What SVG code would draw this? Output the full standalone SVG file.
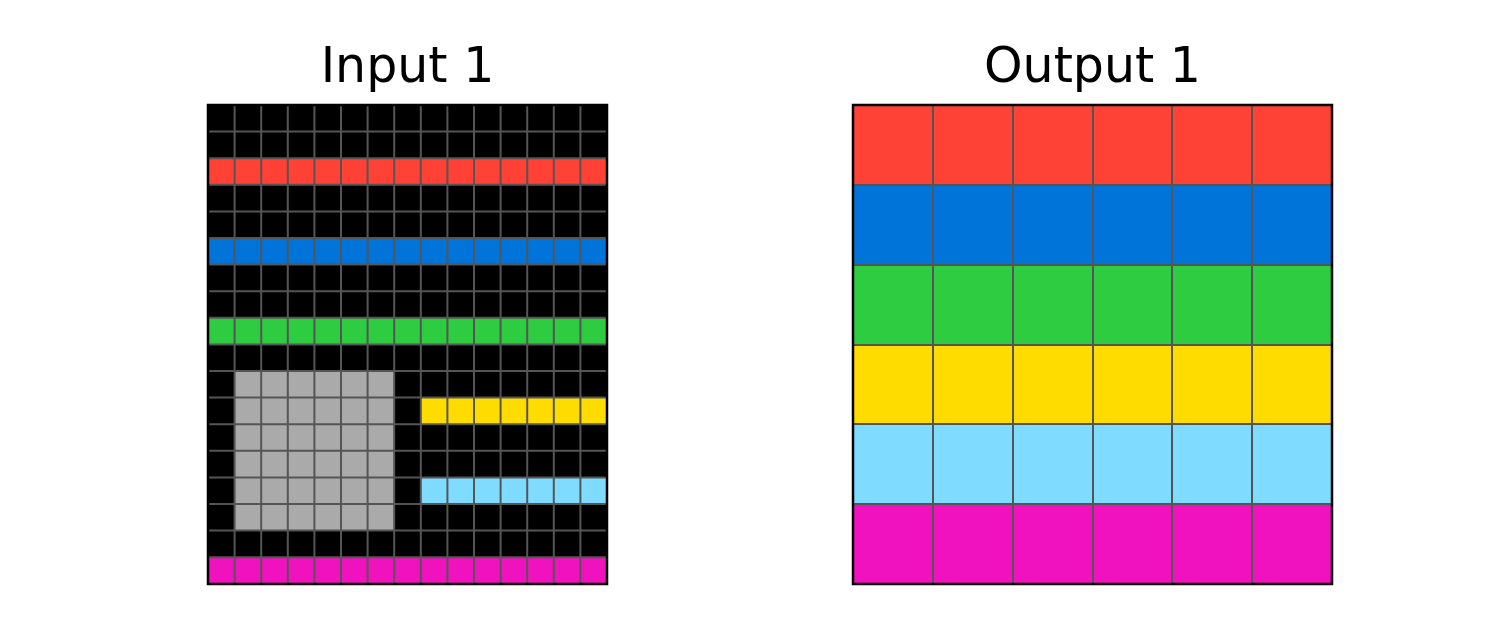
<svg xmlns="http://www.w3.org/2000/svg" width="1500" height="629" viewBox="0 0 1500 629">
<style>
.t{font-family:"DejaVu Sans",sans-serif;font-size:49px;fill:#000;text-anchor:middle}
.gl{stroke:#555;stroke-width:2}
.bd{fill:none;stroke:#000;stroke-width:2.5}
</style>
<rect width="1500" height="629" fill="#fff"/>
<text class="t" x="407.5" y="82">Input 1</text>
<text class="t" x="1092.5" y="82">Output 1</text>
<g id="input">
<rect x="208" y="105" width="399" height="479" fill="#000"/>
<rect x="208" y="158.2" width="399" height="26.6" fill="#FF4136"/>
<rect x="208" y="238" width="399" height="26.6" fill="#0074D9"/>
<rect x="208" y="317.8" width="399" height="26.6" fill="#2ECC40"/>
<rect x="234.6" y="371" width="159.6" height="159.6" fill="#AAAAAA"/>
<rect x="420.8" y="397.6" width="186.2" height="26.6" fill="#FFDC00"/>
<rect x="420.8" y="477.4" width="186.2" height="26.6" fill="#7FDBFF"/>
<rect x="208" y="557.2" width="399" height="26.8" fill="#F012BE"/>
<g class="gl">
<path d="M234.6 105V584M261.2 105V584M287.8 105V584M314.4 105V584M341 105V584M367.6 105V584M394.2 105V584M420.8 105V584M447.4 105V584M474 105V584M500.6 105V584M527.2 105V584M553.8 105V584M580.4 105V584"/>
<path d="M208 131.6H607M208 158.2H607M208 184.8H607M208 211.4H607M208 238H607M208 264.6H607M208 291.2H607M208 317.8H607M208 344.4H607M208 371H607M208 397.6H607M208 424.2H607M208 450.8H607M208 477.4H607M208 504H607M208 530.6H607M208 557.2H607"/>
</g>
<rect class="bd" x="208" y="105" width="399" height="479"/>
</g>
<g id="output">
<rect x="853" y="105" width="479" height="80" fill="#FF4136"/>
<rect x="853" y="185" width="479" height="80" fill="#0074D9"/>
<rect x="853" y="265" width="479" height="80" fill="#2ECC40"/>
<rect x="853" y="345" width="479" height="79" fill="#FFDC00"/>
<rect x="853" y="424" width="479" height="80" fill="#7FDBFF"/>
<rect x="853" y="504" width="479" height="80" fill="#F012BE"/>
<g class="gl">
<path d="M933 105V584M1013 105V584M1093 105V584M1172 105V584M1252 105V584"/>
<path d="M853 185H1332M853 265H1332M853 345H1332M853 424H1332M853 504H1332"/>
</g>
<rect class="bd" x="853" y="105" width="479" height="479"/>
</g>
</svg>
